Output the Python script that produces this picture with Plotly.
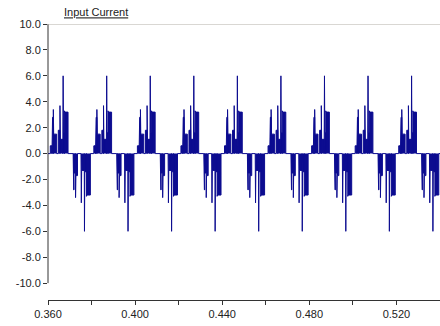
import plotly.graph_objects as go

# ---- data ----
# start time (s) of each 20 ms mains cycle shown
CYCLE_STARTS = [0.36, 0.38, 0.40, 0.42, 0.44, 0.46, 0.48, 0.50, 0.52]

# switching pulses within one cycle: start (ms), end (ms), current (A)
PULSE_START_MS = [1.05, 1.82, 2.10, 2.45, 2.60, 4.73, 5.50, 5.65, 6.95, 7.10, 7.55, 7.70,
                  11.55, 11.80, 11.95, 12.65, 12.80, 15.15, 15.30, 15.45, 16.75, 16.90, 17.65, 17.80]
PULSE_END_MS = [1.82, 2.10, 2.45, 2.60, 3.97, 5.50, 5.65, 6.80, 7.10, 7.55, 7.70, 9.20,
                11.80, 11.95, 12.65, 12.80, 13.55, 15.30, 15.45, 16.65, 16.90, 17.65, 17.80, 19.45]
PULSE_AMP = [0.6, 1.6, 2.8, 3.4, 1.5, 1.8, 3.7, 1.1, 6.0, 1.6, 3.3, 3.2,
             -0.8, -2.8, -1.5, -3.4, -1.7, -1.8, -3.8, -1.3, -6.0, -1.4, -3.3, -3.2]

X_TICKS = [0.36, 0.38, 0.40, 0.42, 0.44, 0.46, 0.48, 0.50, 0.52, 0.54]
X_LABELS = ["0.360", "", "0.400", "", "0.440", "", "0.480", "", "0.520", ""]
Y_TICKS = [-10, -8, -6, -4, -2, 0, 2, 4, 6, 8, 10]
Y_LABELS = ["-10.0", "-8.0", "-6.0", "-4.0", "-2.0", "0.0", "2.0", "4.0", "6.0", "8.0", "10.0"]

# ---- build the waveform as a stepped line ----
t, i = [0.36], [0.0]
for c in CYCLE_STARTS:
    for s, e, a in zip(PULSE_START_MS, PULSE_END_MS, PULSE_AMP):
        ts, te = c + s / 1000.0, c + e / 1000.0
        if ts > 0.54:
            continue
        t += [ts, ts, te, te]
        i += [0.0, a, a, 0.0]
t.append(0.54)
i.append(0.0)

NAVY = "#0c0c90"
fig = go.Figure()
fig.add_trace(go.Scatter(x=t, y=i, mode="lines", line=dict(color=NAVY, width=1),
                         fill="tozeroy", fillcolor=NAVY, hoverinfo="skip"))

font = dict(family="Liberation Sans, Arial, sans-serif", size=11, color="#222222")

fig.update_layout(
    width=440, height=326,
    margin=dict(l=48, r=0, t=24, b=26),
    paper_bgcolor="white", plot_bgcolor="white",
    showlegend=False, font=font,
    title=dict(text="Input Current", x=64 / 440, xref="container", xanchor="left",
               y=1 - 12.5 / 326, yref="container", yanchor="middle",
               font=dict(family="Liberation Sans, Arial, sans-serif", size=11, color="#222222",
                         lineposition="under")),
    xaxis=dict(range=[0.36, 0.54], tickvals=X_TICKS, ticktext=X_LABELS,
               showgrid=False, zeroline=False, showline=True, linecolor="#333333", linewidth=1,
               ticks="outside", ticklen=4, tickcolor="#333333"),
    yaxis=dict(range=[-11.3, 10], tickvals=Y_TICKS, ticktext=Y_LABELS,
               showgrid=False, zeroline=False, showline=False,
               ticks="outside", ticklen=4, tickcolor="#333333"),
    shapes=[
        dict(type="line", xref="paper", yref="y", x0=0, x1=0, y0=-10, y1=10,
             line=dict(color="#333333", width=1)),
        dict(type="line", xref="paper", yref="y", x0=0, x1=1, y0=10, y1=10,
             line=dict(color="#b4b0a8", width=1)),
    ],
)

fig.write_html("out.html")
